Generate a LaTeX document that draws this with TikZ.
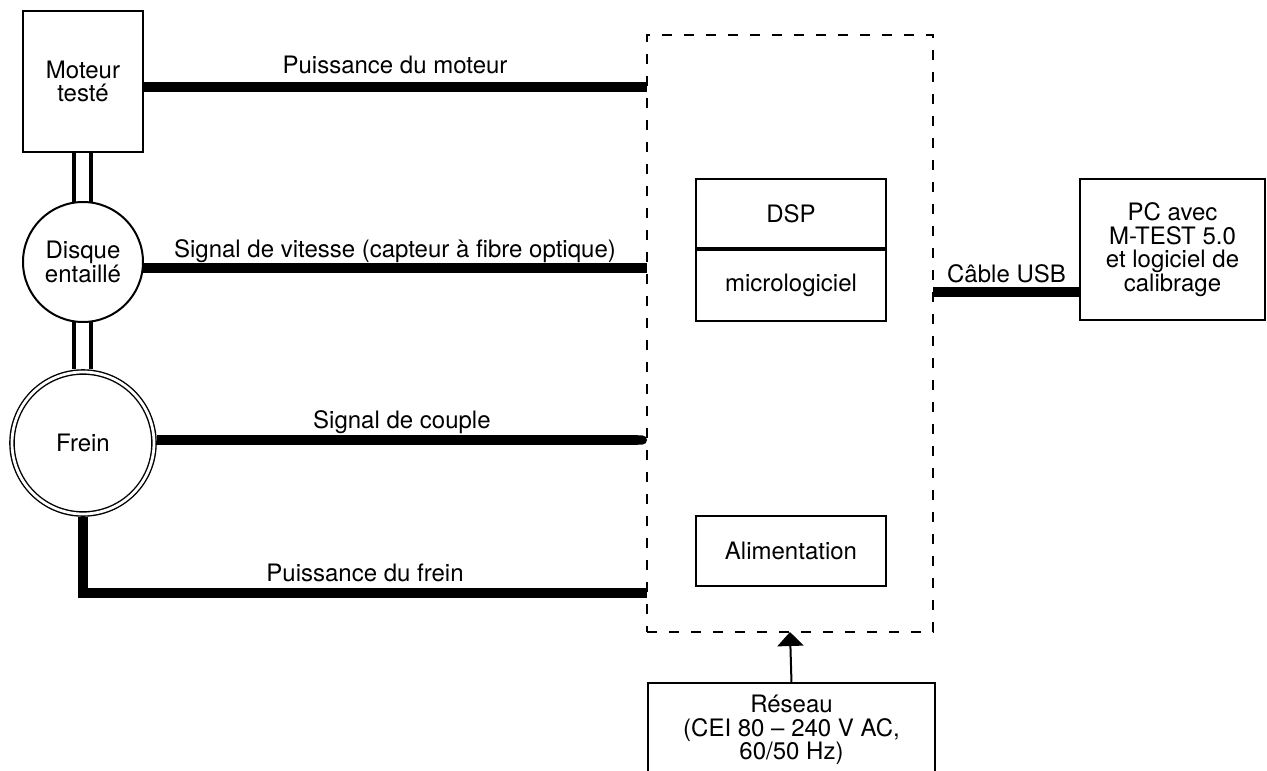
\documentclass[tikz,border=0pt]{standalone}
\usepackage{fontspec}
\setmainfont{TeX Gyre Heros}
\usetikzlibrary{arrows.meta,calc}
\begin{document}
\begin{tikzpicture}[x=0.5pt,y=-0.5pt,
  every node/.style={font=\fontsize{12}{11.8}\selectfont, inner sep=0pt, outer sep=0pt},
  box/.style={draw, line width=1pt, align=center},
  thicklink/.style={line width=4.6pt},
  shaft/.style={line width=2pt},
  lbl/.style={anchor=base, yshift=6pt},
  unitbox/.style={draw, line width=1.2pt, dash pattern=on 5pt off 6pt},
  feed/.style={line width=1pt, -{Triangle[length=7pt,width=13pt]}}
]
\clip (0,0) rectangle (1267,770);
\fill[white] (0,0) rectangle (1267,770);

% devices
\node[box, minimum width=60pt, minimum height=70.5pt] (moteur) at (83,81.5) {Moteur\\testé};
\node[circle, draw, line width=1pt, minimum size=60pt, align=center] (disque) at (83,262) {Disque\\entaillé};
\node[circle, draw, line width=0.7pt, double, double distance=1.4pt, minimum size=71pt, outer sep=1.4pt] (frein) at (83,443) {Frein};

% measuring unit
\node[unitbox, minimum width=143pt, minimum height=298.5pt] (unit) at (790,333.5) {};
\node[box, minimum width=95pt, minimum height=35pt] (dsp) at (791,214) {DSP};
\node[box, minimum width=95pt, minimum height=36pt] (micro) at (791,285) {micrologiciel};
\draw[line width=2pt] (dsp.south west) -- (dsp.south east);
\node[box, minimum width=95pt, minimum height=35pt] (alim) at (791,551) {Alimentation};

% PC and mains
\node[box, minimum width=92.5pt, minimum height=70.5pt] (pc) at (1172.5,249.5) {PC avec\\M-TEST 5.0\\et logiciel de\\calibrage};
\node[box, minimum width=143.5pt, minimum height=47pt] (reseau) at (791.5,730) {Réseau\\(CEI 80 – 240 V AC,\\60/50 Hz)};

% helper heights
\coordinate (ym) at (0,87);
\coordinate (yv) at (0,268);
\coordinate (yc) at (0,440);
\coordinate (yf) at (0,593);
\coordinate (yu) at (0,292);

% shafts
\draw[shaft] ([xshift=-4.5pt]moteur.south) -- ([xshift=-4.5pt]disque.north);
\draw[shaft] ([xshift=4pt]moteur.south) -- ([xshift=4pt]disque.north);
\draw[shaft] ([xshift=-4.5pt]disque.south) -- ([xshift=-4.5pt]frein.north);
\draw[shaft] ([xshift=4pt]disque.south) -- ([xshift=4pt]frein.north);

% signal / power links
\draw[thicklink] (moteur.east |- ym) -- node[lbl, yshift=0.5pt] (l1) {Puissance du moteur} (unit.west |- ym);
\draw[thicklink] (disque.east |- yv) -- node[lbl, yshift=-0.5pt] (l2) {Signal de vitesse (capteur à fibre optique)} (unit.west |- yv);
\draw[thicklink, -{Round Cap[]}] (frein.east |- yc) -- node[lbl] (l3) {Signal de couple} (unit.west |- yc);
\draw[thicklink] (frein.south) |- node[lbl, pos=0.75] (l4) {Puissance du frein} (unit.west |- yf);
\draw[thicklink] (unit.east |- yu) -- node[lbl, yshift=-1pt] (l5) {Câble USB} (pc.west |- yu);

% mains feed
\draw[feed] (reseau.north) -- (unit.south);
\end{tikzpicture}
\end{document}
